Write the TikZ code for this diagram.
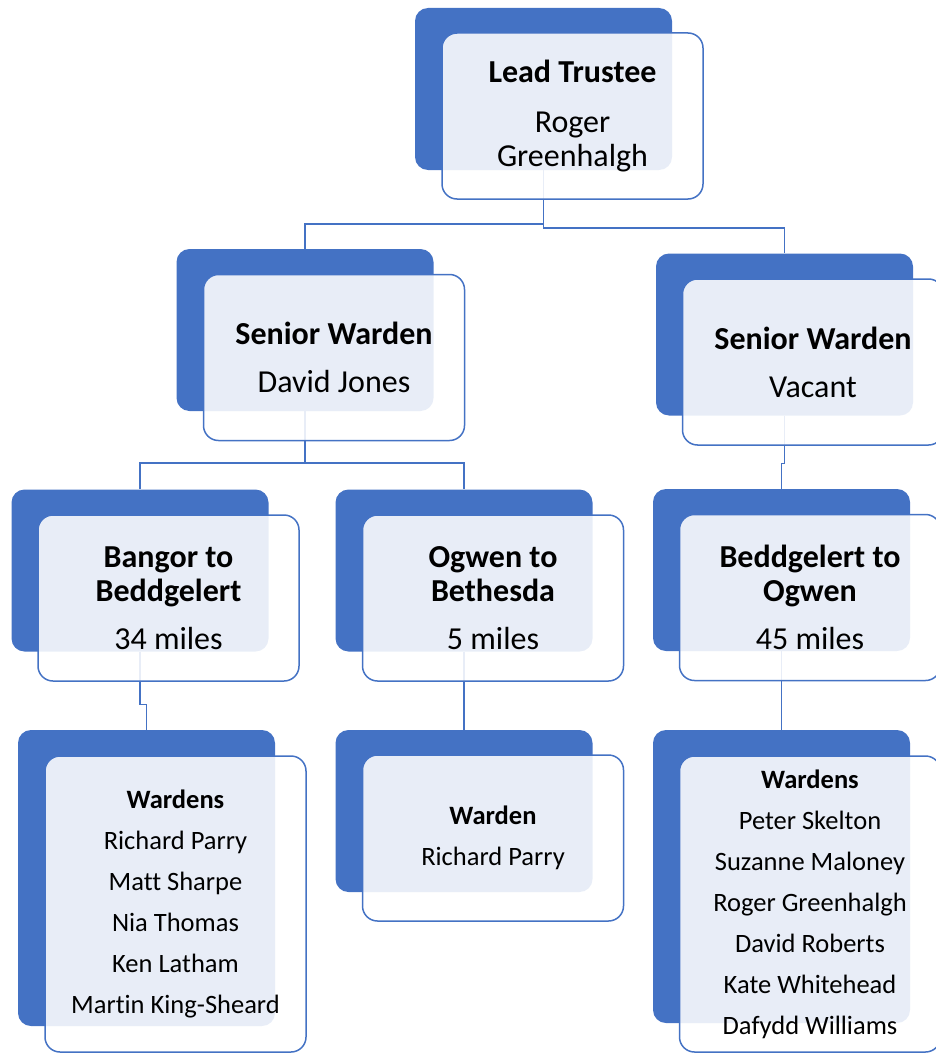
\documentclass[tikz,border=0pt]{standalone}
\usepackage{fontspec}
\setmainfont{Carlito}[Ligatures=NoCommon]
\definecolor{chartblue}{HTML}{4472C4}

\begin{document}
\begin{tikzpicture}[x = 1pt, y = -1pt,
  back/.style = {fill=chartblue, rounded corners=13pt, minimum width=257pt, minimum height=162pt, inner sep=0pt},
  front/.style = {draw=chartblue, line width=1.5pt, fill=white, fill opacity=0.88, text opacity=1,
    rounded corners=15pt, minimum width=261pt, minimum height=166pt, inner sep=0pt, align=center},
  link/.style = {draw=chartblue, line width=1.5pt},
  head/.style = {font=\fontsize{32}{34}\selectfont},
  list/.style = {font=\fontsize{26.5}{41}\selectfont}]
\useasboundingbox (0,0) rectangle (935,1054);

% back boxes
\node[back] (lt-b) at (543.5,89) {};
\node[back] (sw1-b) at (305,330) {};
\node[back] (sw2-b) at (784.5,334.5) {};
\node[back] (r1-b) at (140,570.5) {};
\node[back] (r2-b) at (464,570.5) {};
\node[back] (r3-b) at (781.5,570) {};
\node[back, minimum height=296pt] (w1-b) at (146.5,878) {};
\node[back] (w2-b) at (464,811) {};
\node[back, minimum height=293pt] (w3-b) at (781.5,876.5) {};

% links
\draw[link] (lt-b.south) -- ++(0,54) -| (sw1-b.north);
\draw[link] (lt-b.south) -- ++(0,58) -| (sw2-b.north);
\draw[link] (sw1-b.south) -- ++(0,52) -| (r1-b.north);
\draw[link] (sw1-b.south) -- ++(0,52) -| (r2-b.north);
\draw[link] (sw2-b.south) -- ++(0,48) -| (r3-b.north);
\draw[link] (r1-b.south) -- ++(0,53) -| (w1-b.north);
\draw[link] (r2-b.south) -- (w2-b.north);
\draw[link] (r3-b.south) -- (w3-b.north);

% front boxes
\node[front, head] (lt) at (572.5,116) {\bfseries Lead Trustee\\[16pt]Roger\\Greenhalgh};
\node[front, head] (sw1) at (334,357.5) {\bfseries Senior Warden\\[14pt]David Jones};
\node[front, head] (sw2) at (813,362) {\bfseries Senior Warden\\[14pt]Vacant};
\node[front, head] (r1) at (168.5,598) {\bfseries Bangor to\\\bfseries Beddgelert\\[14pt]34 miles};
\node[front, head] (r2) at (493,598) {\bfseries Ogwen to\\\bfseries Bethesda\\[14pt]5 miles};
\node[front, head] (r3) at (810,597.5) {\bfseries Beddgelert to\\\bfseries Ogwen\\[14pt]45 miles};
\node[front, list, minimum height=296pt] (w1) at (175.5,904) {{\bfseries Wardens}\\Richard Parry\\Matt Sharpe\\Nia Thomas\\Ken Latham\\Martin King-Sheard};
\node[front, list] (w2) at (493,838) {{\bfseries Warden}\\Richard Parry};
\node[front, list, minimum height=296pt] (w3) at (810,904) {{\bfseries Wardens}\\Peter Skelton\\Suzanne Maloney\\Roger Greenhalgh\\David Roberts\\Kate Whitehead\\Dafydd Williams};
\end{tikzpicture}
\end{document}
